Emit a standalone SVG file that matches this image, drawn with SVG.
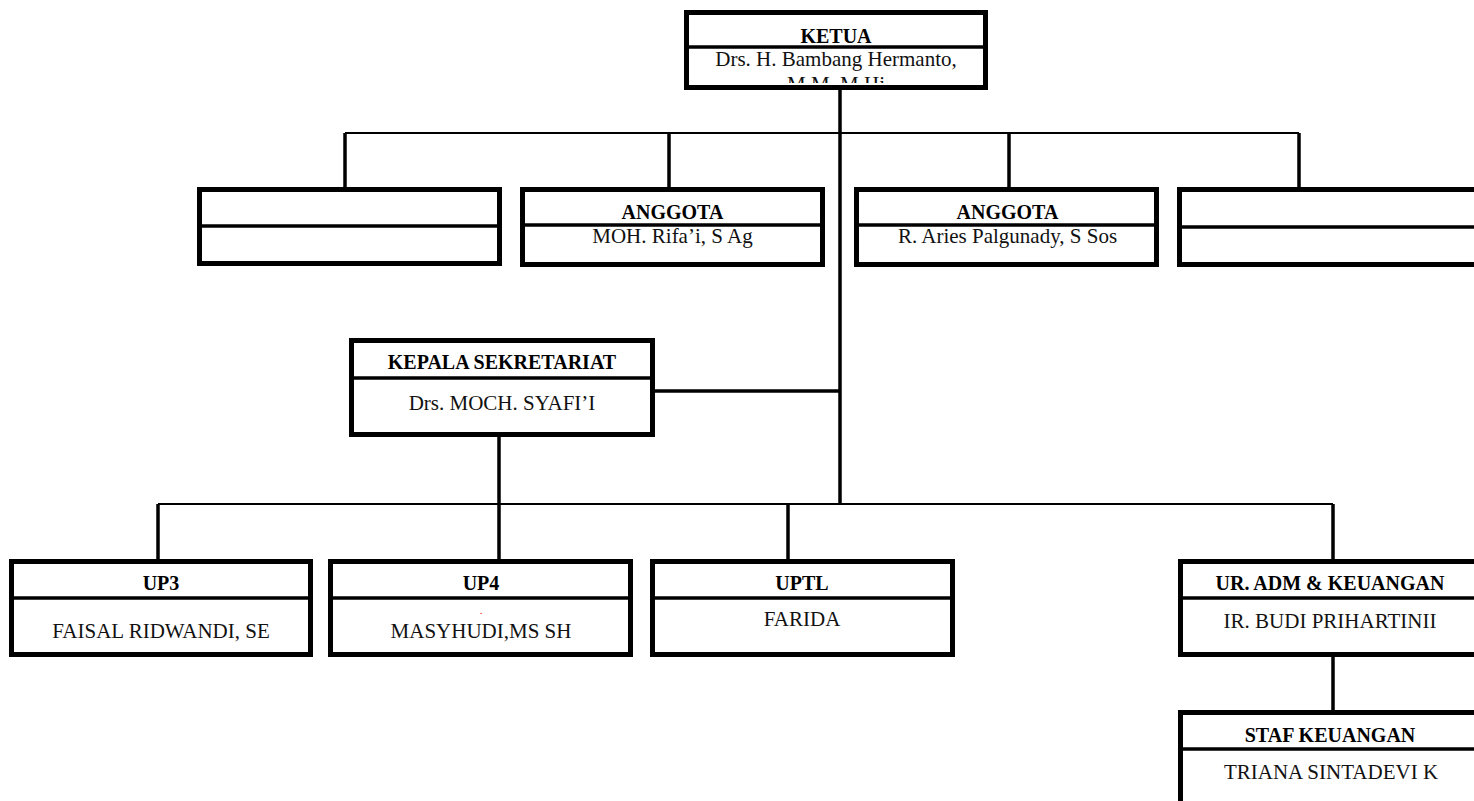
<svg xmlns="http://www.w3.org/2000/svg" width="1474" height="801" viewBox="0 0 1474 801">
  <style>
    .box { fill: #ffffff; stroke: #000000; stroke-width: 5; }
    .outline { fill: none; stroke: #000000; stroke-width: 5; }
    .dv { stroke: #000000; stroke-width: 3.5; }
    .v { stroke: #000000; stroke-width: 3.5; fill: none; }
    .h { stroke: #000000; stroke-width: 2; fill: none; }
    .t { font-family: "Liberation Serif", "Times New Roman", serif; font-weight: bold; font-size: 20px; text-anchor: middle; fill: #000; }
    .n { font-family: "Liberation Serif", "Times New Roman", serif; font-size: 21px; text-anchor: middle; fill: #111; }
  </style>
  <defs>
    <clipPath id="ketuaClip"><rect x="689" y="50" width="294" height="33"/></clipPath>
  </defs>
  <rect width="1474" height="801" fill="#ffffff"/>

  <g id="connectors">
    <line class="v" x1="840" y1="88" x2="840" y2="504"/>
    <line class="h" x1="345" y1="133" x2="1299" y2="133"/>
    <line class="v" x1="345" y1="133" x2="345" y2="189"/>
    <line class="v" x1="669" y1="133" x2="669" y2="189"/>
    <line class="v" x1="1009" y1="133" x2="1009" y2="189"/>
    <line class="v" x1="1299" y1="133" x2="1299" y2="189"/>
    <line class="v" x1="653" y1="391" x2="840" y2="391"/>
    <line class="v" x1="499" y1="435" x2="499" y2="561"/>
    <line class="h" x1="158" y1="504" x2="1333" y2="504"/>
    <line class="v" x1="158" y1="504" x2="158" y2="561"/>
    <line class="v" x1="788" y1="504" x2="788" y2="561"/>
    <line class="v" x1="1333" y1="504" x2="1333" y2="561"/>
    <line class="v" x1="1333" y1="655" x2="1333" y2="712"/>
  </g>

  <g id="ketua">
    <rect class="box" x="686.5" y="12.5" width="299" height="75"/>
    <text class="t" x="836" y="43">KETUA</text>
    <text class="n" x="836" y="66">Drs. H. Bambang Hermanto,</text>
    <text class="n" x="836" y="91" clip-path="url(#ketuaClip)">M.M, M.Hi</text>
    <line class="dv" x1="686.5" y1="47" x2="985.5" y2="47"/>
    <rect class="outline" x="686.5" y="12.5" width="299" height="75"/>
  </g>

  <g id="anggota-empty-left">
    <rect class="box" x="199.5" y="189.5" width="300" height="74"/>
    <line class="dv" x1="199.5" y1="226" x2="499.5" y2="226"/>
  </g>

  <g id="anggota-1">
    <rect class="box" x="522.5" y="189.5" width="300" height="75"/>
    <line class="dv" x1="522.5" y1="225" x2="822.5" y2="225"/>
    <text class="t" x="672.5" y="219">ANGGOTA</text>
    <text class="n" x="672.5" y="243">MOH. Rifa’i, S Ag</text>
  </g>

  <g id="anggota-2">
    <rect class="box" x="856.5" y="189.5" width="300" height="75"/>
    <line class="dv" x1="856.5" y1="225" x2="1156.5" y2="225"/>
    <text class="t" x="1007.5" y="219">ANGGOTA</text>
    <text class="n" x="1007.5" y="243">R. Aries Palgunady, S Sos</text>
  </g>

  <g id="anggota-empty-right">
    <rect class="box" x="1179.5" y="189.5" width="320" height="75"/>
    <line class="dv" x1="1179.5" y1="227" x2="1499.5" y2="227"/>
  </g>

  <g id="kepala-sekretariat">
    <rect class="box" x="351.5" y="340.5" width="301" height="94"/>
    <line class="dv" x1="351.5" y1="378" x2="652.5" y2="378"/>
    <text class="t" x="502" y="369">KEPALA SEKRETARIAT</text>
    <text class="n" x="502" y="410">Drs. MOCH. SYAFI’I</text>
  </g>

  <g id="up3">
    <rect class="box" x="11.5" y="561.5" width="299" height="93"/>
    <line class="dv" x1="11.5" y1="598" x2="310.5" y2="598"/>
    <text class="t" x="161" y="590">UP3</text>
    <text class="n" x="161" y="638">FAISAL RIDWANDI, SE</text>
  </g>

  <g id="up4">
    <rect class="box" x="330.5" y="561.5" width="300" height="93"/>
    <line class="dv" x1="330.5" y1="598" x2="630.5" y2="598"/>
    <text class="t" x="481" y="590">UP4</text>
    <text x="481" y="614" font-family="Liberation Serif, serif" font-size="11" fill="#ff0000" text-anchor="middle">.</text>
    <text class="n" x="481" y="638">MASYHUDI,MS SH</text>
  </g>

  <g id="uptl">
    <rect class="box" x="652.5" y="561.5" width="300" height="93"/>
    <line class="dv" x1="652.5" y1="598" x2="952.5" y2="598"/>
    <text class="t" x="802" y="590">UPTL</text>
    <text class="n" x="802" y="626">FARIDA</text>
  </g>

  <g id="ur-adm-keuangan">
    <rect class="box" x="1180.5" y="561.5" width="320" height="93"/>
    <line class="dv" x1="1180.5" y1="598" x2="1500.5" y2="598"/>
    <text class="t" x="1330" y="590">UR. ADM &amp; KEUANGAN</text>
    <text class="n" x="1330" y="628">IR. BUDI PRIHARTINII</text>
  </g>

  <g id="staf-keuangan">
    <rect class="box" x="1180.5" y="712.5" width="320" height="120"/>
    <line class="dv" x1="1180.5" y1="749" x2="1500.5" y2="749"/>
    <text class="t" x="1330" y="742">STAF KEUANGAN</text>
    <text class="n" x="1331" y="779">TRIANA SINTADEVI K</text>
  </g>
</svg>
